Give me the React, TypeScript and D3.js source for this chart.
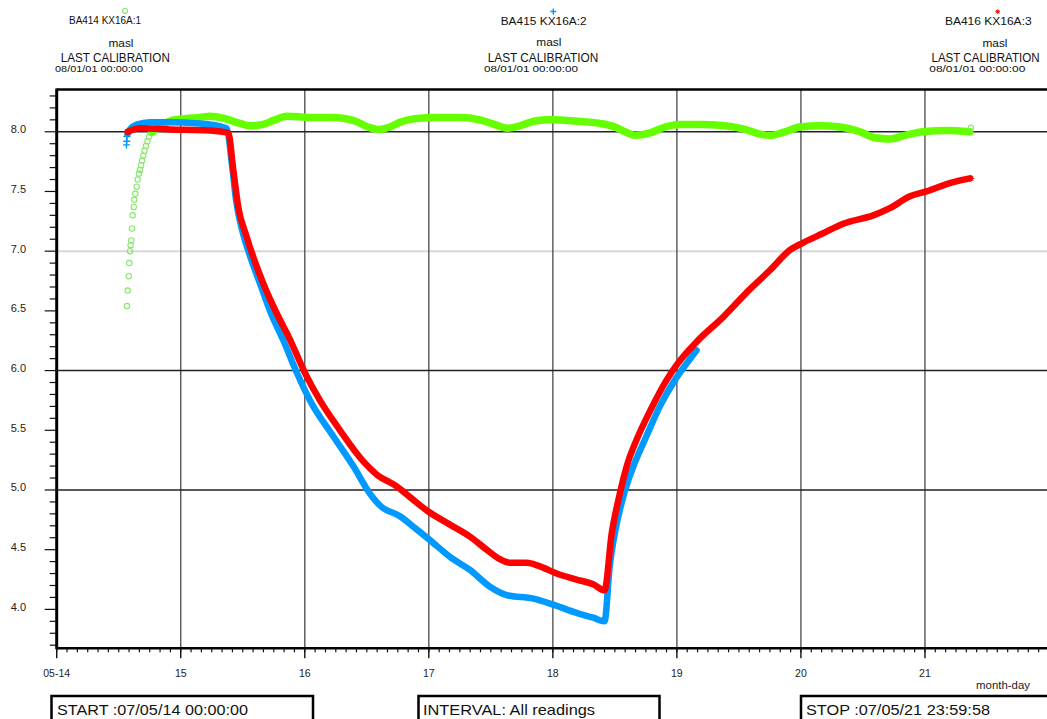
import React from "react";
import * as d3 from "d3";

// Logging window
const START = new Date(2007, 4, 14, 0, 0, 0);
const END = new Date(2007, 4, 22, 0, 0, 0);

// Sensor header texts
const sensorNames = ["BA414 KX16A:1", "BA415 KX16A:2", "BA416 KX16A:3"];
const sensorUnit = "masl";
const calibrationTitle = "LAST CALIBRATION";
const calibrationDates = ["08/01/01 00:00:00", "08/01/01 00:00:00", "08/01/01 00:00:00"];

// Footer texts
const footerLabels = ["START :07/05/14 00:00:00", "INTERVAL: All readings", "STOP :07/05/21 23:59:58"];
const xAxisTitle = "month-day";

// Axis ticks
const yTickValues = [4.0, 4.5, 5.0, 5.5, 6.0, 6.5, 7.0, 7.5, 8.0];
const yGridDark = [5.0, 6.0, 8.0];
const yGridLight = [7.0];
const dayTicks = [14, 15, 16, 17, 18, 19, 20, 21];

// BA414 KX16A:1 — first sparse readings after start (hours after START, masl)
const greenRiseHours = [13.6, 13.74, 13.93, 14.05, 14.18, 14.31, 14.43, 14.57, 14.7, 14.9, 15.01, 15.21, 15.48, 15.67, 15.92, 16.12, 16.32, 16.52, 16.74, 16.99, 17.27, 17.56, 17.88, 18.25];
const greenRiseLevels = [6.54, 6.67, 6.79, 6.9, 7.0, 7.05, 7.09, 7.19, 7.3, 7.37, 7.43, 7.48, 7.54, 7.6, 7.65, 7.68, 7.72, 7.76, 7.8, 7.84, 7.88, 7.92, 7.96, 7.99];
// BA414 KX16A:1 — continuous record
const greenHours = [18.63, 19.99, 21.92, 24.82, 27.72, 29.66, 32.56, 35.46, 37.4, 39.72, 42.23, 44.55, 49.01, 53.46, 57.71, 60.23, 62.16, 64.48, 66.42, 69.32, 73.58, 78.03, 81.9, 84.8, 87.12, 89.64, 92.54, 95.44, 100.28, 105.11, 108.02, 109.95, 111.89, 114.79, 117.69, 120.59, 124.46, 129.3, 133.17, 136.07, 138.01, 140.91, 143.81, 147.68, 151.55, 155.42, 158.32, 161.23, 164.13, 167.61, 172.25, 176.7];
const greenLevels = [8.0, 8.05, 8.09, 8.11, 8.12, 8.13, 8.11, 8.07, 8.05, 8.06, 8.1, 8.13, 8.12, 8.12, 8.09, 8.04, 8.02, 8.04, 8.08, 8.11, 8.12, 8.12, 8.1, 8.06, 8.03, 8.05, 8.09, 8.1, 8.09, 8.07, 8.04, 8.0, 7.97, 7.99, 8.04, 8.06, 8.06, 8.05, 8.02, 7.98, 7.97, 8.0, 8.04, 8.05, 8.04, 8.0, 7.95, 7.94, 7.97, 8.0, 8.01, 8.0];

// BA415 KX16A:2 — first sparse readings
const blueStartHours = [13.5, 13.55, 13.6];
const blueStartLevels = [7.89, 7.92, 7.96];
// BA415 KX16A:2 — continuous record
const blueHours = [13.7, 14.18, 15.48, 18.05, 21.34, 27.72, 32.89, 33.92, 34.69, 36.04, 37.4, 39.33, 41.46, 43.78, 46.49, 49.01, 53.51, 57.38, 60.61, 62.55, 66.42, 69.65, 72.22, 76.09, 79.96, 83.83, 87.06, 92.21, 96.08, 100.6, 103.8, 106.0, 107.0, 108.0, 109.6, 111.6, 114.1, 116.7, 119.6, 121.9, 123.8];
const blueLevels = [7.98, 8.02, 8.06, 8.08, 8.08, 8.07, 8.03, 7.72, 7.43, 7.15, 6.96, 6.73, 6.48, 6.26, 5.98, 5.75, 5.45, 5.2, 4.97, 4.87, 4.78, 4.67, 4.58, 4.44, 4.33, 4.19, 4.12, 4.09, 4.04, 3.97, 3.93, 3.9, 4.36, 4.64, 4.94, 5.2, 5.45, 5.7, 5.92, 6.06, 6.17];

// BA416 KX16A:3 — continuous record
const redHours = [13.74, 16.12, 21.92, 29.66, 33.2, 34.17, 35.13, 36.76, 38.04, 39.97, 42.56, 45.14, 48.04, 50.94, 54.81, 59.32, 61.91, 65.78, 68.35, 71.89, 76.09, 79.96, 83.19, 85.77, 87.7, 90.93, 93.5, 96.74, 100.6, 103.8, 106.0, 107.4, 108.7, 110.3, 112.2, 114.9, 118.0, 120.0, 123.8, 129.0, 134.1, 138.0, 141.9, 144.4, 148.3, 152.2, 158.0, 161.2, 165.1, 168.3, 172.8, 176.7];
const redLevels = [8.0, 8.03, 8.02, 8.01, 7.99, 7.68, 7.37, 7.12, 6.95, 6.73, 6.48, 6.26, 5.98, 5.75, 5.5, 5.24, 5.13, 5.03, 4.94, 4.82, 4.71, 4.61, 4.5, 4.42, 4.39, 4.39, 4.36, 4.3, 4.25, 4.21, 4.16, 4.64, 4.92, 5.2, 5.42, 5.67, 5.92, 6.05, 6.24, 6.45, 6.68, 6.84, 7.01, 7.07, 7.15, 7.23, 7.3, 7.36, 7.46, 7.5, 7.57, 7.61];

const GREEN = "#66ff00";
const GREEN_LIGHT = "#86e86a";
const BLUE = "#0099ff";
const RED = "#ff0000";
const FONT = "'Liberation Sans', Arial, Helvetica, sans-serif";

const W = 1047;
const H = 719;
const plot = { left: 56.7, right: 1049, top: 89.5, bottom: 648.3 };

const at = (h: number) => new Date(START.getTime() + h * 3600e3);
const pairs = (hs: number[], vs: number[]) => hs.map((h, i) => [h, vs[i]] as [number, number]);

const x = d3.scaleTime().domain([START, END]).range([plot.left, plot.right]);
const y = d3.scaleLinear().domain([3.674, 8.354]).range([plot.bottom, plot.top]);

const line = d3
  .line<[number, number]>()
  .x((d) => x(at(d[0])))
  .y((d) => y(d[1]))
  .curve(d3.curveMonotoneX);

const plusPath = (r: number) => `M${-r},0L${r},0M0,${-r}L0,${r}`;
const starPath = (r: number) => {
  const k = r * 0.72;
  return `M${-r},0L${r},0M0,${-r}L0,${r}M${-k},${-k}L${k},${k}M${-k},${k}L${k},${-k}`;
};

function Marker({ kind, cx, cy, size }: { kind: number; cx: number; cy: number; size: number }) {
  if (kind === 0)
    return <circle cx={cx} cy={cy} r={size * 0.85} fill="none" stroke={GREEN_LIGHT} strokeWidth={1.1} />;
  if (kind === 1)
    return <path d={plusPath(size)} transform={`translate(${cx},${cy})`} stroke={BLUE} strokeWidth={1.4} fill="none" />;
  return <path d={starPath(size * 0.8)} transform={`translate(${cx},${cy})`} stroke={RED} strokeWidth={1} fill="none" />;
}

// Header block placement for the three sensors
const headerLayout = [
  { label: { cx: 105, y: 24, size: 10.5, len: 72 }, mark: { x: 125, y: 11 }, unit: { cx: 121, y: 46.5 }, cal: { cx: 115.3, y: 61.5, len: 109 }, date: { x: 55, y: 71.5, len: 88 } },
  { label: { cx: 543.7, y: 25, size: 11.5, len: 86 }, mark: { x: 553.3, y: 11.5 }, unit: { cx: 548.8, y: 46 }, cal: { cx: 543, y: 61.5, len: 110.6 }, date: { x: 484, y: 71.5, len: 94 } },
  { label: { cx: 988.3, y: 25, size: 11.5, len: 86.7 }, mark: { x: 997.7, y: 11.7 }, unit: { cx: 995, y: 46.5 }, cal: { cx: 985.5, y: 61.5, len: 108 }, date: { x: 929.3, y: 71.5, len: 96 } },
];

const footerLayout = [
  { x0: 51.5, x1: 313, tx: 57, len: 191 },
  { x0: 418.5, x1: 659.5, tx: 423, len: 172 },
  { x0: 801, x1: 1060, tx: 806, len: 184 },
];

export default function App() {
  const dayDates = dayTicks.map((d) => new Date(2007, 4, d));
  const gridDays = dayDates.slice(1);
  const minorX = d3.timeHour.every(2)!.range(START, END);
  const minorY = d3.range(37, 84).map((v) => v / 10);
  const fmtDay = (d: Date, i: number) => (i === 0 ? d3.timeFormat("%m-%d")(d) : d3.timeFormat("%d")(d));

  const greenPts = pairs(greenHours, greenLevels);
  const greenRise = pairs(greenRiseHours, greenRiseLevels);
  const bluePts = pairs(blueHours, blueLevels);
  const blueStart = pairs(blueStartHours, blueStartLevels);
  const redPts = pairs(redHours, redLevels);
  const redLast = redPts[redPts.length - 1];
  const greenLast = greenPts[greenPts.length - 1];

  return (
    <div style={{ position: "absolute", left: 0, top: 0 }}>
      <svg width={W} height={H} style={{ display: "block", background: "#fff" }} fontFamily={FONT}>
        <defs>
          <clipPath id="plotClip">
            <rect x={plot.left} y={plot.top} width={W - plot.left} height={plot.bottom - plot.top} />
          </clipPath>
        </defs>

        {/* header blocks */}
        {sensorNames.map((name, i) => {
          const L = headerLayout[i];
          return (
            <g key={name} fill="#111">
              <Marker kind={i} cx={L.mark.x} cy={L.mark.y} size={3} />
              <text x={L.label.cx} y={L.label.y} fontSize={L.label.size} textAnchor="middle" textLength={L.label.len} lengthAdjust="spacingAndGlyphs">{name}</text>
              <text x={L.unit.cx} y={L.unit.y} fontSize={11} textAnchor="middle" textLength={25} lengthAdjust="spacingAndGlyphs">{sensorUnit}</text>
              <text x={L.cal.cx} y={L.cal.y} fontSize={12.5} textAnchor="middle" textLength={L.cal.len} lengthAdjust="spacingAndGlyphs">{calibrationTitle}</text>
              <text x={L.date.x} y={L.date.y} fontSize={9} textLength={L.date.len} lengthAdjust="spacingAndGlyphs">{calibrationDates[i]}</text>
            </g>
          );
        })}

        {/* grid */}
        <g>
          {yGridLight.map((v) => (
            <line key={"gl" + v} x1={plot.left} x2={W} y1={y(v)} y2={y(v)} stroke="#d8d8d8" strokeWidth={2} />
          ))}
          {gridDays.map((d) => (
            <line key={"gx" + d.getTime()} x1={x(d)} x2={x(d)} y1={plot.top} y2={plot.bottom} stroke="#555" strokeWidth={1.4} />
          ))}
          {yGridDark.map((v) => (
            <line key={"gd" + v} x1={plot.left} x2={W} y1={y(v)} y2={y(v)} stroke="#222" strokeWidth={1.4} />
          ))}
        </g>

        {/* series */}
        <g clipPath="url(#plotClip)" fill="none" strokeLinecap="round" strokeLinejoin="round">
          {greenRise.map((p, i) => (
            <circle key={"gr" + i} cx={x(at(p[0]))} cy={y(p[1])} r={2.7} fill="none" stroke={GREEN_LIGHT} strokeWidth={1.1} />
          ))}
          <path d={line(greenPts) ?? ""} stroke={GREEN} strokeWidth={7.5} />
          <path d={line(bluePts) ?? ""} stroke={BLUE} strokeWidth={6.5} />
          {blueStart.map((p, i) => (
            <path key={"bs" + i} d={plusPath(3)} transform={`translate(${x(at(p[0]))},${y(p[1])})`} stroke={BLUE} strokeWidth={1.4} />
          ))}
          <path d={line(redPts) ?? ""} stroke={RED} strokeWidth={6.5} />
          <path d={starPath(3)} transform={`translate(${x(at(redPts[0][0]))},${y(redPts[0][1])})`} stroke={RED} strokeWidth={1} />
          <path d={starPath(3)} transform={`translate(${x(at(redLast[0])) + 1},${y(redLast[1])})`} stroke={RED} strokeWidth={1} />
          <circle cx={x(at(greenLast[0])) + 1} cy={y(greenLast[1]) - 4} r={2.6} stroke={GREEN_LIGHT} strokeWidth={1.1} />
        </g>

        {/* frame */}
        <line x1={plot.left} x2={W} y1={plot.top} y2={plot.top} stroke="#000" strokeWidth={2.5} />
        <line x1={plot.left} x2={plot.left} y1={plot.top - 1} y2={plot.bottom + 1} stroke="#000" strokeWidth={3} />
        <line x1={plot.left} x2={W} y1={plot.bottom} y2={plot.bottom} stroke="#000" strokeWidth={2.5} />

        {/* y axis */}
        <g stroke="#111">
          {minorY.map((v) => {
            const major = Math.abs(v * 2 - Math.round(v * 2)) < 1e-6;
            return (
              <line key={"ty" + v} x1={plot.left - (major ? 12 : 7)} x2={plot.left} y1={y(v)} y2={y(v)} strokeWidth={1.2} />
            );
          })}
        </g>
        <g fontSize={11} fill="#222" textAnchor="end">
          {yTickValues.map((v) => (
            <text key={"ly" + v} x={26} y={y(v) + 1.5}>{v.toFixed(1)}</text>
          ))}
        </g>

        {/* x axis */}
        <g stroke="#111">
          {minorX.map((d) => (
            <line key={"tx" + d.getTime()} x1={x(d)} x2={x(d)} y1={plot.bottom} y2={plot.bottom + 4} strokeWidth={1.2} />
          ))}
          {dayDates.map((d) => (
            <line key={"mx" + d.getTime()} x1={x(d)} x2={x(d)} y1={plot.bottom} y2={plot.bottom + 10} strokeWidth={1.4} />
          ))}
        </g>
        <g fontSize={10.5} fill="#222" textAnchor="middle">
          {dayDates.map((d, i) => (
            <text key={"lx" + d.getTime()} x={x(d)} y={677}>{fmtDay(d, i)}</text>
          ))}
        </g>
        <text x={976} y={689} fontSize={10.5} fill="#222" textLength={54} lengthAdjust="spacingAndGlyphs">{xAxisTitle}</text>

        {/* footer boxes */}
        {footerLabels.map((t, i) => {
          const F = footerLayout[i];
          return (
            <g key={t}>
              <rect x={F.x0} y={696} width={F.x1 - F.x0} height={40} fill="none" stroke="#000" strokeWidth={2.5} />
              <text x={F.tx} y={715} fontSize={15} fill="#111" textLength={F.len} lengthAdjust="spacingAndGlyphs">{t}</text>
            </g>
          );
        })}
      </svg>
    </div>
  );
}
